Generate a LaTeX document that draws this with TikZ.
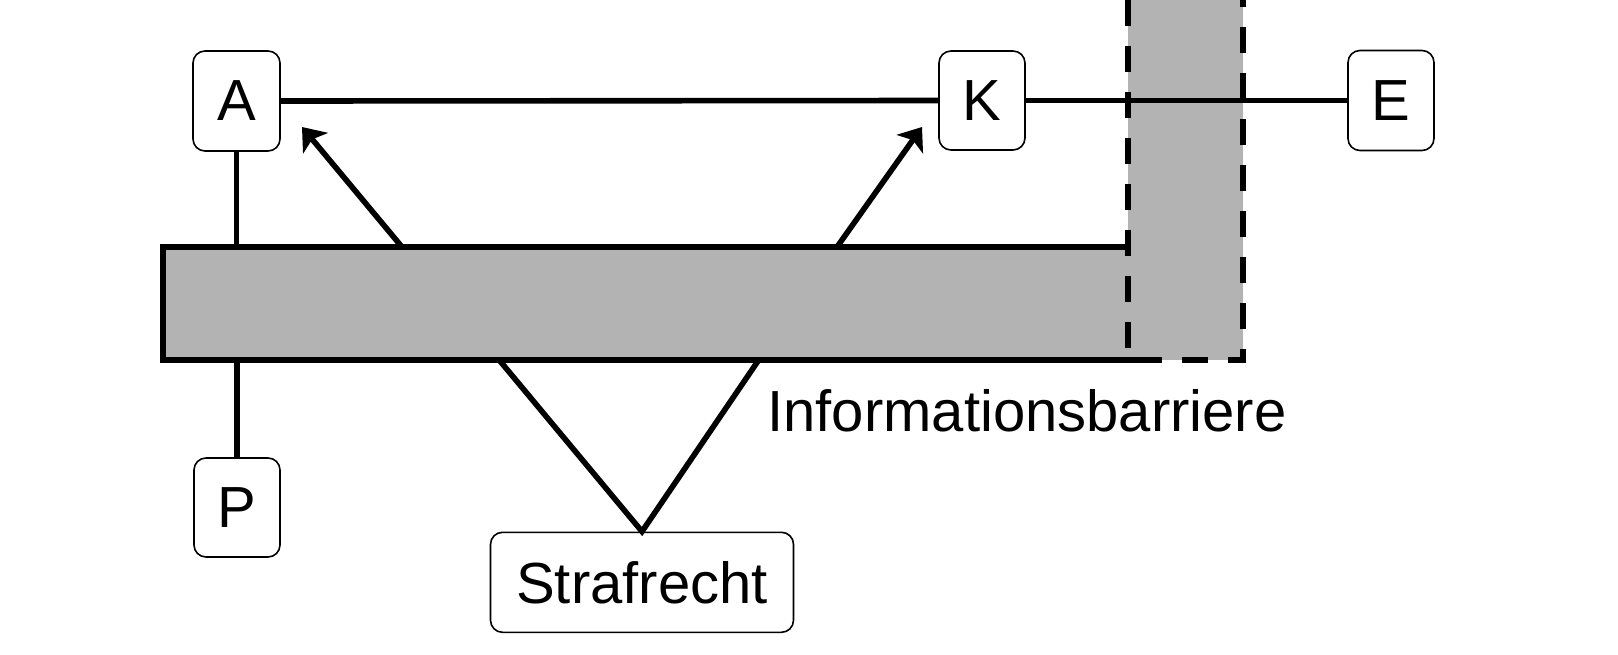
\documentclass[tikz,border=0pt]{standalone}
\usepackage{fontspec}
\setmainfont{Liberation Sans}
\usetikzlibrary{arrows.meta}
\definecolor{bargray}{HTML}{B3B3B3}
\tikzset{
  lbox/.style={draw, line width=0.8pt, rounded corners=6pt, fill=white, inner sep=0pt,
    font=\fontsize{29}{34}\selectfont},
  conn/.style={line width=2.8pt},
  arr/.style={line width=2.8pt, -{Stealth[length=10.5pt,width=16pt,inset=2.5pt]}},
  barline/.style={line width=3.2pt},
  barrier/.style={line width=3pt, dash pattern=on 13pt off 10pt},
}
\begin{document}
\begin{tikzpicture}[x=0.5pt,y=-0.5pt]
\useasboundingbox (0,0) rectangle (1618,654);
% coordinates
\coordinate (bl) at (163,247);
\coordinate (br) at (1128,247);
\coordinate (bbl) at (163,360);
\coordinate (bbr) at (1153,360);
\coordinate (xl) at (1128,0);
\coordinate (xlb) at (1128,360);
\coordinate (xrb) at (1243,360);
\coordinate (xr) at (1243,0);
% fills
\fill[bargray] (xl) rectangle (xrb);
\fill[bargray] (bl) rectangle (xlb);
% bar border
\draw[barline] (br) -- (bl) -- (bbl) -- (bbr);
% barrier dashed
\draw[barrier] (xl) -- (xlb) -- (xrb) -- (xr);
% nodes
\node[lbox, minimum width=43.5pt, minimum height=50pt] (A) at (236.5,101) {A};
\node[lbox, minimum width=43pt, minimum height=49.5pt] (K) at (982,100.5) {K};
\node[lbox, minimum width=43pt, minimum height=50pt] (E) at (1391,100.5) {E};
\node[lbox, minimum width=43pt, minimum height=49.5pt] (P) at (237,507.5) {P};
\node[lbox, minimum width=151.5pt, minimum height=50pt] (S) at (642,582.3) {Strafrecht};
\node[anchor=base west, inner sep=0pt, font=\fontsize{29}{34}\selectfont] (lab) at (767,431) {Informationsbarriere};
% connectors
\draw[conn] (A.east) -- (K.west);
\draw[conn] (K.east) -- (E.west);
\draw[conn] (A.south) -- (A.south |- bl);
\draw[conn] (P.north) -- (P.north |- bbl);
\coordinate (a1s) at (402,247);
\coordinate (a1e) at (302,127);
\coordinate (a2s) at (837,247);
\coordinate (a2e) at (922,127);
\draw[arr] (a1s) -- (a1e);
\draw[arr] (a2s) -- (a2e);
\coordinate (s1) at (500,361);
\coordinate (s2) at (758,361);
\draw[conn] (s1) -- (S.north) -- (s2);
\end{tikzpicture}
\end{document}
